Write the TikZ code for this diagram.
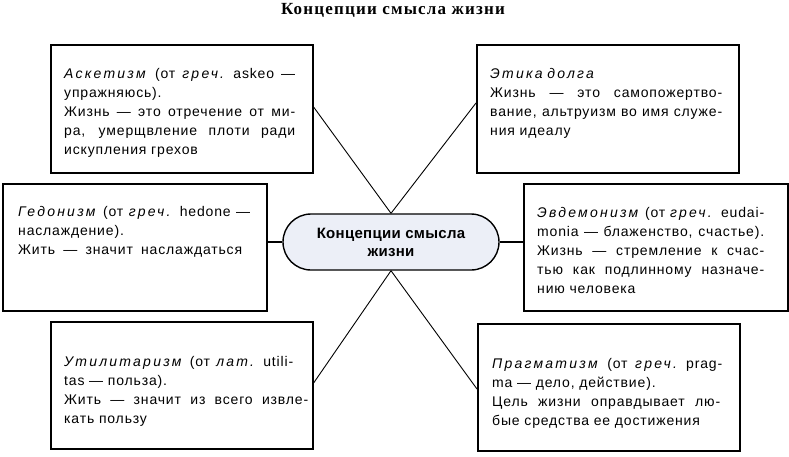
\documentclass[tikz,border=0pt]{standalone}
\usepackage{fontspec}
\setmainfont[LetterSpace=6, ItalicFeatures={LetterSpace=16}]{Liberation Sans}
\newfontfamily\titlefont[LetterSpace=7]{Liberation Serif}
\newfontfamily\centerfont[LetterSpace=2]{Liberation Sans}
\usetikzlibrary{shapes.misc,calc}
\definecolor{ovalfill}{RGB}{236,239,247}
\newcommand\fullline[2]{\leavevmode\hbox to #1{\spaceskip=0.28em plus 1fil minus 0.1em\relax #2}}
\tikzset{
  box/.style={draw, line width=1.6pt, rectangle, anchor=north west, inner sep=0pt},
  txt/.style={anchor=north west, inner sep=0pt, text width=#1, align=left,
    font=\fontsize{14}{19}\selectfont},
  oval/.style={rounded rectangle, draw, line width=1.4pt, fill=ovalfill,
    minimum width=216pt, minimum height=56pt, inner sep=0pt, align=center,
    font=\centerfont\bfseries\fontsize{15}{18}\selectfont},
  thinconn/.style={line width=0.9pt},
  thickconn/.style={line width=1.6pt},
  titlestyle/.style={anchor=base, inner sep=0pt,
    font=\titlefont\bfseries\fontsize{17}{18}\selectfont}
}
\begin{document}
\begin{tikzpicture}[x=1pt,y=-1pt]
\useasboundingbox (0,0) rectangle (789,456);

\node[titlestyle] (title) at (393,14) {Концепции смысла жизни};

\node[box, minimum width=262pt, minimum height=128pt] (b1) at (50,44) {};
\node[box, minimum width=262pt, minimum height=128pt] (b2) at (476,44) {};
\node[box, minimum width=264pt, minimum height=127pt] (b3) at (2,183) {};
\node[box, minimum width=264pt, minimum height=127pt] (b4) at (523,183) {};
\node[box, minimum width=262pt, minimum height=127pt] (b5) at (50,321) {};
\node[box, minimum width=262pt, minimum height=127pt] (b6) at (477,323) {};

\node[oval] (c) at (391,242) {Концепции смысла\\жизни};

\node[txt=250pt] (t1) at ($(b1.north west)+(14,20.7)$) {\strut
\fullline{231pt}{\textit{Аскетизм} (от \textit{греч.} askeo —}\\
упражняюсь).\\
\fullline{231pt}{Жизнь — это отречение от ми-}\\
\fullline{231pt}{ра, умерщвление плоти ради}\\
искупления грехов};

\node[txt=250pt] (t2) at ($(b2.north west)+(14,20.7)$) {\strut
\textit{Этика долга}\\
\fullline{232pt}{Жизнь — это самопожертво-}\\
\fullline{232pt}{вание, альтруизм во имя служе-}\\
ния идеалу};

\node[txt=250pt] (t3) at ($(b3.north west)+(16,19.7)$) {\strut
\fullline{232pt}{\textit{Гедонизм} (от \textit{греч.} hedone —}\\
наслаждение).\\
\fullline{224pt}{Жить — значит наслаждаться}};

\node[txt=250pt] (t4) at ($(b4.north west)+(14,20.7)$) {\strut
\fullline{227pt}{\textit{Эвдемонизм} (от \textit{греч.} eudai-}\\
\fullline{227pt}{monia — блаженство, счастье).}\\
\fullline{227pt}{Жизнь — стремление к счас-}\\
\fullline{227pt}{тью как подлинному назначе-}\\
нию человека};

\node[txt=250pt] (t5) at ($(b5.north west)+(14,31.7)$) {\strut
\fullline{229pt}{\textit{Утилитаризм} (от \textit{лат.} utili-}\\
tas — польза).\\
\fullline{244pt}{Жить — значит из всего извле-}\\
кать пользу};

\node[txt=250pt] (t6) at ($(b6.north west)+(15,31.7)$) {\strut
\fullline{230pt}{\textit{Прагматизм} (от \textit{греч.} prag-}\\
ma — дело, действие).\\
\fullline{228pt}{Цель жизни оправдывает лю-}\\
бые средства ее достижения};

\draw[thinconn] ($(b1.north east)+(0,63)$) -- (c.north);
\draw[thinconn] ($(b2.north west)+(0,59)$) -- (c.north);
\draw[thickconn] (c.west) -- (c.west -| b3.east);
\draw[thickconn] (c.east) -- (c.east -| b4.west);
\draw[thinconn] ($(b5.north east)+(0,62)$) -- (c.south);
\draw[thinconn] ($(b6.north west)+(0,66)$) -- (c.south);
\end{tikzpicture}
\end{document}
